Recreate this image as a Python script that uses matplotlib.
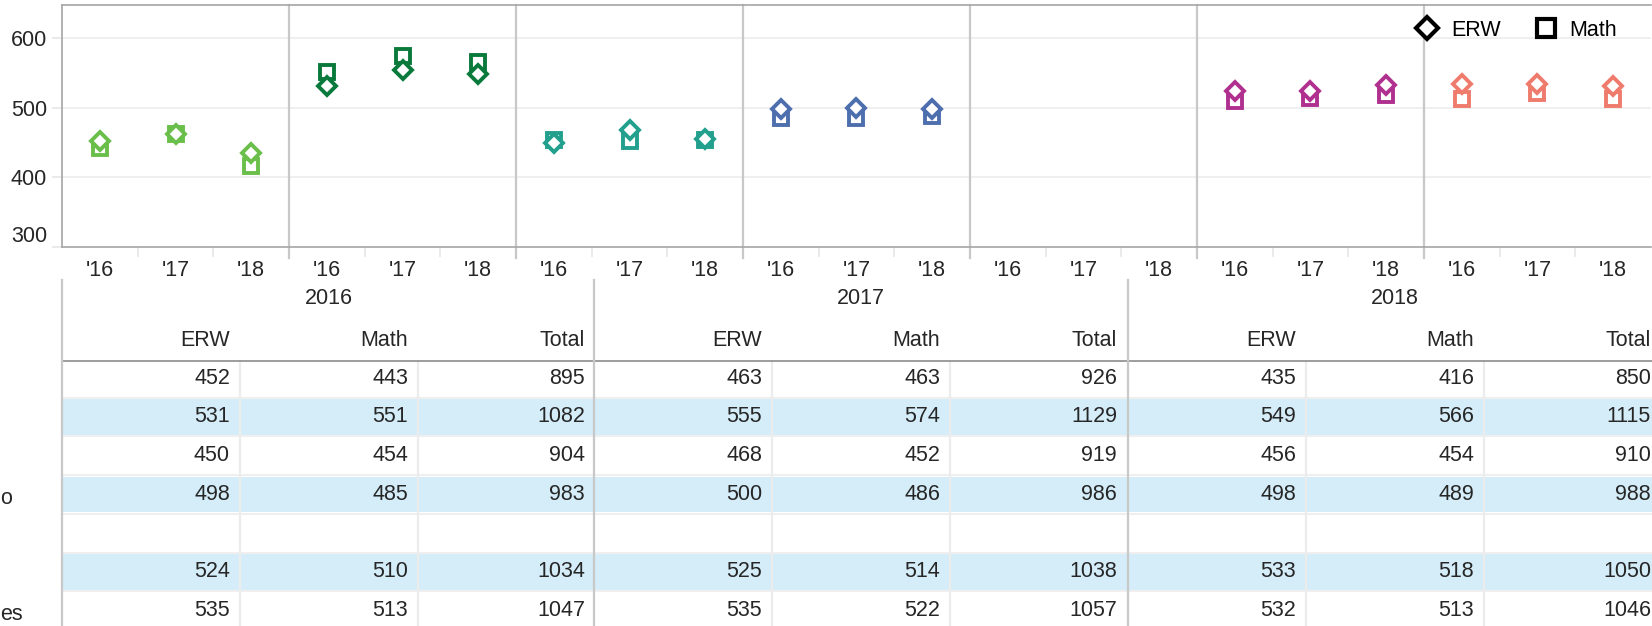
import numpy as np
import matplotlib
matplotlib.use("Agg")
import matplotlib.pyplot as plt
from matplotlib.lines import Line2D
from matplotlib.patches import Rectangle

plt.rcParams['font.family'] = ['Liberation Sans', 'DejaVu Sans']

# data (one row per state, row 5 has no data)
years = ['2016', '2017', '2018']
year_ticks = ["'16", "'17", "'18"]
columns = ['ERW', 'Math', 'Total']
row_label_tails = ['', '', '', 'o', '', '', 'es']
row_colors = ['#6abf4b', '#0a7a3c', '#22a08d', '#4e6fae', '#888888', '#b0308f', '#ee7b6c']

nan = np.nan
erw_2016 = [452, 531, 450, 498, nan, 524, 535]
math_2016 = [443, 551, 454, 485, nan, 510, 513]
total_2016 = [895, 1082, 904, 983, nan, 1034, 1047]
erw_2017 = [463, 555, 468, 500, nan, 525, 535]
math_2017 = [463, 574, 452, 486, nan, 514, 522]
total_2017 = [926, 1129, 919, 986, nan, 1038, 1057]
erw_2018 = [435, 549, 456, 498, nan, 533, 532]
math_2018 = [416, 566, 454, 489, nan, 518, 513]
total_2018 = [850, 1115, 910, 988, nan, 1050, 1046]

erw = [erw_2016, erw_2017, erw_2018]
math = [math_2016, math_2017, math_2018]
total = [total_2016, total_2017, total_2018]

W, H = 1652, 626
FS = 15.5
TXT = '#262626'

def fig_rect(x0, y0, x1, y1):
    return [x0 / W, 1 - y1 / H, (x1 - x0) / W, (y1 - y0) / H]

fig = plt.figure(figsize=(W / 100, H / 100), dpi=100)

# ---- table (pixel coordinates) ----
axt = fig.add_axes([0, 0, 1, 1])
axt.set_xlim(0, W)
axt.set_ylim(H, 0)
axt.axis('off')

n_rows = len(erw_2016)
row_h = 38.7
row_top0 = 359
year_left = [62, 594, 1128]
year_w = 533
col_right = [178, 356, 533]

for i in range(n_rows):
    top = row_top0 + i * row_h
    if i % 2 == 1:
        axt.add_patch(Rectangle((62, top + 1.5), W - 62, row_h - 3, fc='#d4edf9', ec='none', zorder=1))
    if i > 0:
        axt.plot([62, W], [top, top], color='#efefef', lw=1.5, zorder=2)

axt.plot([62, W], [361, 361], color='#8c8c8c', lw=1.2, zorder=3)

for k, left in enumerate(year_left):
    axt.plot([left, left], [280, H], color='#c8c8c8', lw=1.6, zorder=3)
    axt.text(left + year_w / 2, 299, years[k], ha='center', va='center', fontsize=FS, color=TXT)
    for c in range(3):
        xr = left + col_right[c]
        if c < 2:
            axt.plot([xr, xr], [361, H], color='#ececec', lw=1.6, zorder=2)
        axt.text(xr - 10, 340, columns[c], ha='right', va='center', fontsize=FS, color=TXT)
        vals = [erw, math, total][c][k]
        for i in range(n_rows):
            if np.isnan(vals[i]):
                continue
            axt.text(xr - 10, row_top0 + i * row_h + 19, f'{int(vals[i])}',
                     ha='right', va='center', fontsize=FS, color=TXT, zorder=4)

for i, lab in enumerate(row_label_tails):
    if lab:
        axt.text(0, row_top0 + i * row_h + 23, lab, ha='left', va='center', fontsize=FS, color=TXT)

# ---- dot chart ----
ax = fig.add_axes(fig_rect(62, 5, 1651, 247))
ax.set_facecolor('white')

for g in range(n_rows):
    xs = [3 * g + j for j in range(3)]
    e = [erw[j][g] for j in range(3)]
    m = [math[j][g] for j in range(3)]
    ax.plot(xs, m, ls='none', marker='s', ms=10, mew=2.8, mec=row_colors[g], mfc='white', zorder=3)
    ax.plot(xs, e, ls='none', marker='D', ms=8.8, mew=2.8, mec=row_colors[g], mfc='white', zorder=4)

n_cat = 3 * n_rows
ax.set_xlim(-0.5, n_cat - 0.5)
ax.set_ylim(300.5, 648)
ax.set_xticks(range(n_cat))
ax.set_xticklabels(year_ticks * n_rows)
ax.set_xticks([k + 0.5 for k in range(n_cat - 1)], minor=True)
ax.tick_params(axis='x', which='major', length=0, pad=9, labelsize=FS, labelcolor=TXT)
ax.tick_params(axis='x', which='minor', length=7.5, width=1.2, color='#e6e6e6')
ax.set_yticks([300, 400, 500, 600])
ax.tick_params(axis='y', length=7.2, width=1.2, color='#e6e6e6', pad=3.6, labelsize=FS, labelcolor=TXT)
ax.get_yticklabels()[0].set_va('bottom')
ax.grid(axis='y', color='#ececec', lw=1.2)
ax.set_axisbelow(True)
for s in ['top', 'left', 'bottom']:
    ax.spines[s].set_color('#a6a6a6')
    ax.spines[s].set_linewidth(1.2)
ax.spines['right'].set_visible(False)

for g in range(1, n_rows):
    ax.axvline(3 * g - 0.5, ymin=-0.045, ymax=1, color='#c8c8c8', lw=1.6, clip_on=False, zorder=1)

handles = [
    Line2D([], [], ls='none', marker='D', ms=11.5, mew=3, mec='black', mfc='white', label='ERW'),
    Line2D([], [], ls='none', marker='s', ms=13, mew=3, mec='black', mfc='white', label='Math'),
]
ax.legend(handles=handles, loc='center right', bbox_to_anchor=(1617 / W, 1 - 30 / H),
          bbox_transform=fig.transFigure, ncol=2, frameon=False, fontsize=FS,
          handlelength=1.2, handletextpad=0.5, columnspacing=1.5, borderaxespad=0, borderpad=0)

fig.savefig('out.png', dpi=100)
